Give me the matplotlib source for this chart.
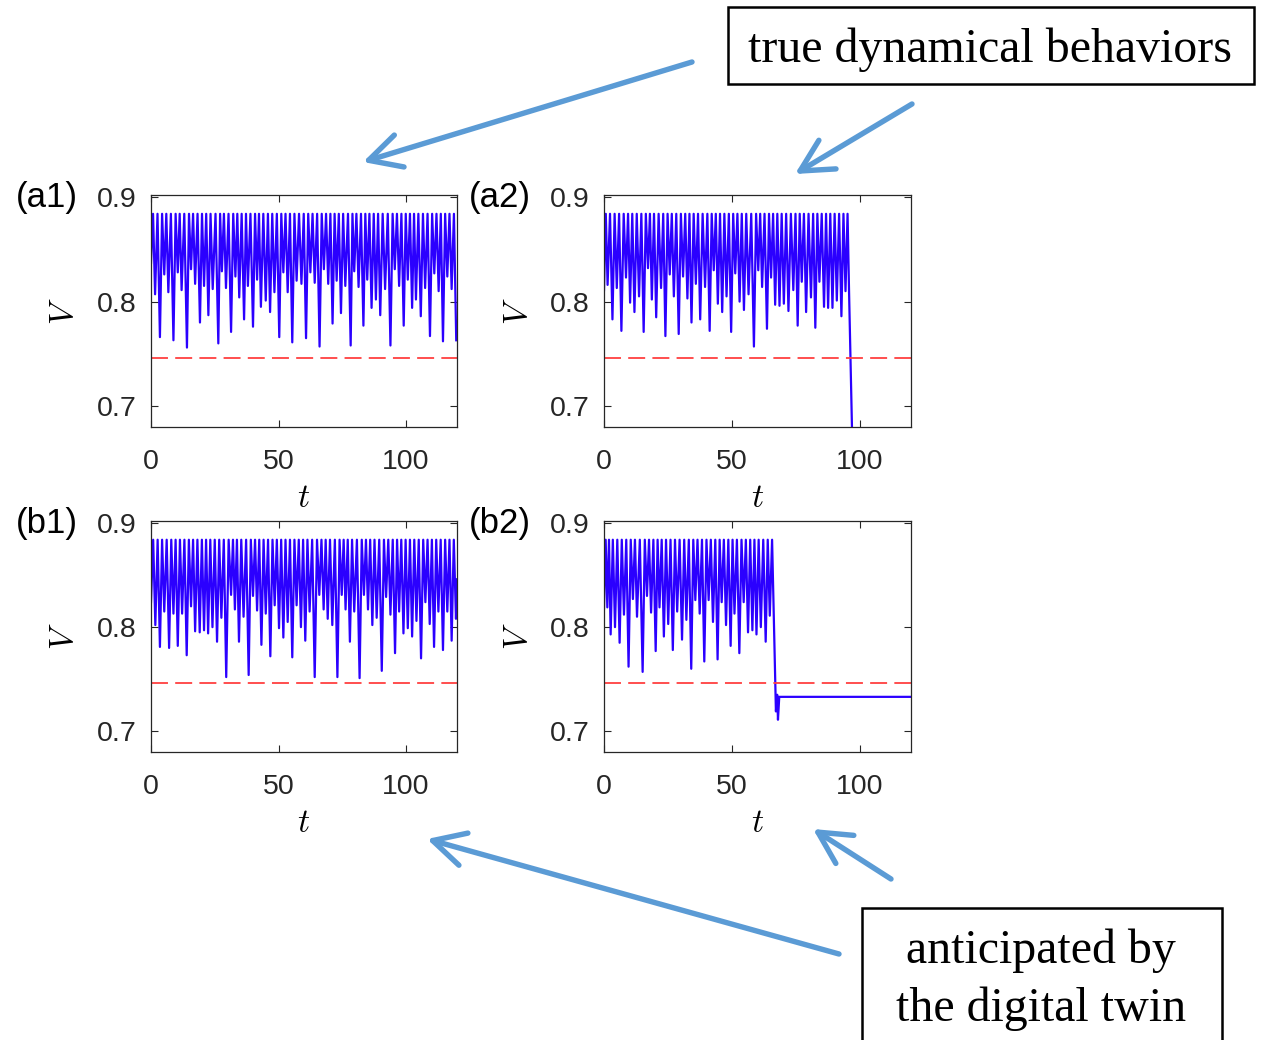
import numpy as np
import matplotlib.pyplot as plt
from matplotlib.patches import FancyArrowPatch, Rectangle

plt.rcParams.update({
    "font.family": "Liberation Sans",
    "mathtext.fontset": "cm",
    "axes.linewidth": 0.9,
    "axes.edgecolor": "#262626",
})

# voltage traces: start value, trough times/values (peaks sit between troughs), tail after last trough
PEAK = 0.884
THRESH = 0.7465

a1_v0 = 0.837
a1_trough_t = [1.6, 3.5, 5.2, 6.8, 8.8, 10.5, 12.0, 14.1, 15.7, 17.3, 19.2, 20.8, 22.5, 24.2, 26.4,
               27.8, 29.4, 31.4, 33.1, 34.6, 36.5, 38.0, 40.0, 41.6, 43.1, 45.0, 46.7, 48.4, 50.3, 51.9,
               53.6, 55.4, 57.1, 59.0, 60.8, 62.5, 64.2, 66.1, 67.8, 69.5, 71.2, 72.8, 74.5, 76.2, 78.3,
               79.7, 81.4, 83.3, 84.8, 86.5, 88.2, 89.9, 91.8, 93.9, 95.6, 97.3, 99.1, 100.7, 102.4, 103.9,
               105.8, 107.5, 109.4, 111.1, 112.8, 114.5, 116.2, 117.9, 119.7]
a1_trough_v = [0.807, 0.766, 0.826, 0.809, 0.763, 0.828, 0.811, 0.756, 0.831, 0.817, 0.780, 0.815, 0.787, 0.812, 0.760,
               0.829, 0.813, 0.771, 0.824, 0.804, 0.783, 0.815, 0.776, 0.821, 0.795, 0.801, 0.790, 0.809, 0.766, 0.828,
               0.809, 0.761, 0.820, 0.817, 0.765, 0.828, 0.818, 0.757, 0.831, 0.817, 0.779, 0.820, 0.789, 0.815, 0.758,
               0.829, 0.814, 0.777, 0.821, 0.794, 0.802, 0.787, 0.812, 0.758, 0.831, 0.815, 0.777, 0.821, 0.794, 0.802,
               0.786, 0.813, 0.767, 0.827, 0.810, 0.762, 0.824, 0.812, 0.763]
a1_tail_t = []
a1_tail_v = []

a2_v0 = 0.811
a2_trough_t = [1.4, 3.3, 5.0, 6.8, 8.6, 10.2, 11.9, 13.7, 15.5, 17.2, 18.7, 20.4, 22.3, 24.0, 25.7,
               27.3, 29.2, 30.9, 32.6, 34.2, 35.9, 37.6, 39.5, 41.3, 42.9, 44.5, 46.2, 47.9, 49.7, 51.3,
               53.0, 54.7, 56.5, 58.6, 60.3, 61.8, 63.7, 65.3, 66.9, 68.6, 70.3, 72.1, 74.0, 75.7, 77.3,
               79.0, 80.9, 82.6, 84.2, 86.0, 87.6, 89.3, 91.0, 92.8, 94.4]
a2_trough_v = [0.816, 0.783, 0.813, 0.772, 0.823, 0.799, 0.790, 0.805, 0.771, 0.832, 0.802, 0.785, 0.813, 0.767, 0.826,
               0.805, 0.769, 0.824, 0.803, 0.780, 0.817, 0.783, 0.814, 0.772, 0.830, 0.798, 0.790, 0.805, 0.771, 0.827,
               0.800, 0.792, 0.807, 0.757, 0.830, 0.814, 0.774, 0.823, 0.797, 0.796, 0.798, 0.791, 0.811, 0.777, 0.819,
               0.790, 0.804, 0.775, 0.819, 0.795, 0.794, 0.794, 0.801, 0.786, 0.810]
a2_tail_t = [95.2, 95.8, 97.1, 98.0]
a2_tail_v = [0.884, 0.808, 0.660, 0.550]

b1_v0 = 0.824
b1_trough_t = [1.7, 3.5, 5.2, 7.1, 8.8, 10.5, 12.2, 14.0, 15.7, 17.3, 19.1, 20.8, 22.4, 24.1, 25.9,
               27.6, 29.5, 31.4, 32.9, 34.5, 36.3, 38.3, 40.0, 41.6, 43.3, 45.0, 46.8, 48.5, 50.2, 51.9,
               53.6, 55.4, 57.1, 58.8, 60.5, 62.2, 64.2, 66.0, 67.7, 69.3, 71.1, 73.1, 74.8, 76.3, 78.0,
               79.7, 81.8, 83.5, 85.1, 86.8, 88.5, 90.5, 92.2, 93.9, 95.7, 97.3, 99.0, 100.7, 102.4, 104.1,
               105.9, 107.6, 109.3, 111.0, 112.7, 114.5, 116.2, 117.9, 119.6]
b1_trough_v = [0.802, 0.781, 0.815, 0.780, 0.813, 0.782, 0.813, 0.773, 0.820, 0.796, 0.795, 0.797, 0.794, 0.800, 0.786,
               0.809, 0.752, 0.831, 0.817, 0.786, 0.810, 0.754, 0.830, 0.816, 0.783, 0.813, 0.772, 0.821, 0.799, 0.790,
               0.805, 0.771, 0.821, 0.800, 0.787, 0.815, 0.752, 0.831, 0.817, 0.808, 0.802, 0.752, 0.831, 0.817, 0.786,
               0.815, 0.751, 0.831, 0.817, 0.802, 0.809, 0.758, 0.829, 0.812, 0.775, 0.815, 0.794, 0.799, 0.791, 0.806,
               0.770, 0.824, 0.803, 0.781, 0.815, 0.778, 0.815, 0.787, 0.808]
b1_tail_t = [120.0]
b1_tail_v = [0.846]

b2_v0 = 0.818
b2_trough_t = [1.3, 2.6, 4.3, 6.1, 7.8, 9.6, 11.3, 12.9, 15.1, 16.8, 18.4, 20.2, 21.7, 23.4, 25.1,
               26.9, 28.6, 30.5, 32.2, 34.1, 35.7, 37.4, 39.2, 40.9, 42.6, 44.4, 46.0, 47.7, 49.5, 51.0,
               52.9, 54.6, 56.3, 58.0, 59.6, 61.3, 63.2, 64.8]
b2_trough_v = [0.819, 0.793, 0.800, 0.785, 0.812, 0.762, 0.827, 0.810, 0.757, 0.830, 0.814, 0.777, 0.819, 0.791, 0.803,
               0.778, 0.815, 0.788, 0.807, 0.760, 0.826, 0.813, 0.767, 0.826, 0.805, 0.769, 0.824, 0.802, 0.782, 0.813,
               0.775, 0.824, 0.795, 0.797, 0.793, 0.800, 0.786, 0.811]
b2_tail_t = [65.7, 67.2, 67.7, 68.0, 68.5, 120.0]
b2_tail_v = [0.884, 0.719, 0.735, 0.711, 0.733, 0.733]


def build_trace(v0, tt, tv, tail_t, tail_v):
    t = [0.0]
    v = [v0]
    prev = 0.0
    for ti, vi in zip(tt, tv):
        t += [(prev + ti) / 2, ti]
        v += [PEAK, vi]
        prev = ti
    return np.array(t + tail_t), np.array(v + tail_v)


panels = [
    ("(a1)", (151, 195, 457, 427), build_trace(a1_v0, a1_trough_t, a1_trough_v, a1_tail_t, a1_tail_v)),
    ("(a2)", (604, 195, 911, 427), build_trace(a2_v0, a2_trough_t, a2_trough_v, a2_tail_t, a2_tail_v)),
    ("(b1)", (151, 521, 457, 752), build_trace(b1_v0, b1_trough_t, b1_trough_v, b1_tail_t, b1_tail_v)),
    ("(b2)", (604, 521, 911, 752), build_trace(b2_v0, b2_trough_t, b2_trough_v, b2_tail_t, b2_tail_v)),
]

W, H = 1265, 1040
fig = plt.figure(figsize=(W / 100, H / 100), dpi=100)


def fx(x):
    return x / W


def fy(y):
    return 1 - y / H


for label, (x0, y0, x1, y1), (t, v) in panels:
    ax = fig.add_axes([fx(x0), fy(y1), fx(x1) - fx(x0), fy(y0) - fy(y1)])
    ax.plot(t, v, color="#2b00ff", lw=1.6)
    ax.axhline(THRESH, color="#ff4040", lw=1.3, ls=(0, (9.4, 4)))
    ax.set_xlim(0, 120)
    ax.set_ylim(0.68, 0.902)
    ax.set_xticks([0, 50, 100])
    ax.set_yticks([0.7, 0.8, 0.9])
    ax.set_yticklabels(["0.7", "0.8", "0.9"])
    ax.tick_params(direction="in", top=True, right=True, length=5, width=0.8,
                   labelsize=20.5, colors="#262626")
    ax.tick_params(axis="x", pad=16)
    ax.tick_params(axis="y", pad=10)
    cx = (x0 + x1) / 2
    cy = (y0 + y1) / 2
    fig.text(fx(x0 - 135), fy(y0 + 3), label, fontsize=25, va="center", ha="left")
    fig.text(fx(x0 - 86), fy(cy), r"$V$", fontsize=24, rotation=90, va="center", ha="center")
    fig.text(fx(cx), fy(y1 + 71), r"$t$", fontsize=24, va="center", ha="center")

# annotation arrows
arrow_col = "#5b9bd5"
arrows = [((692, 62), (363, 162)), ((912, 104), (795, 174)),
          ((839, 954), (427, 839)), ((891, 879), (813, 829))]
for (xa, ya), (xb, yb) in arrows:
    fig.add_artist(FancyArrowPatch((fx(xa), fy(ya)), (fx(xb), fy(yb)), transform=fig.transFigure,
                                   arrowstyle="->,head_length=23,head_width=12", mutation_scale=1,
                                   color=arrow_col, lw=3.9, capstyle="round", joinstyle="round",
                                   shrinkA=0, shrinkB=0))

# boxed captions
fig.add_artist(Rectangle((fx(728), fy(84)), fx(1254) - fx(728), fy(7) - fy(84), transform=fig.transFigure,
                         fill=False, ec="black", lw=1.8))
fig.text(fx(990), fy(50), "true dynamical behaviors", fontsize=34.5, family="Liberation Serif",
         ha="center", va="center")
fig.add_artist(Rectangle((fx(862), fy(1060)), fx(1222) - fx(862), fy(908) - fy(1060), transform=fig.transFigure,
                         fill=False, ec="black", lw=1.8))
fig.text(fx(1041), fy(980), "anticipated by\nthe digital twin", fontsize=34.5, family="Liberation Serif",
         ha="center", va="center", linespacing=1.4)

fig.savefig("out.png", dpi=100, facecolor="white")
